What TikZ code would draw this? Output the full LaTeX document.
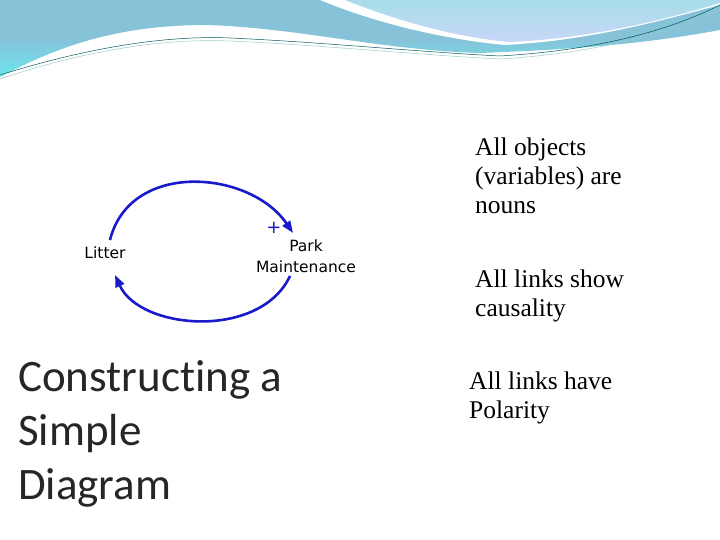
\documentclass[tikz,border=0pt]{standalone}
\usepackage{fontspec}
\setmainfont{Liberation Serif}
\newfontfamily\sansf{DejaVu Sans}
\newfontfamily\calib[RawFeature=-liga]{Carlito}
\usetikzlibrary{arrows.meta}
\definecolor{hdr}{HTML}{86C2D8}
\definecolor{hdrc}{HTML}{6CE6EE}
\definecolor{hlt}{HTML}{A8DDE8}
\definecolor{lnk}{HTML}{1A1ACC}
\tikzset{lab/.style={font=\sansf\fontsize{15.5}{18}\selectfont,align=center,inner sep=0pt},
 bul/.style={font=\fontsize{25.5}{29}\selectfont,align=left,anchor=north west,inner sep=0pt},
 arc/.style={lnk,line width=2.6pt,-{Triangle[length=12pt,width=9pt]}}}
\begin{document}
\begin{tikzpicture}[x=1pt,y=-1pt]
\useasboundingbox (0,0) rectangle (720,540);
\fill[white] (0,0) rectangle (720,540);
\shade[top color=hdr,bottom color=hdrc,middle color=hdr] (0,0) -- (720,0) -- (720,30) .. controls (640,45) and (560,50) .. (480,53) .. controls (380,50) and (300,28) .. (207,25) .. controls (120,25) and (60,45) .. (0,77) -- cycle;
\fill[white] (320,0) .. controls (380,25) and (450,40) .. (505,45) .. controls (600,40) and (680,15) .. (720,5) -- (720,0) -- cycle;
\shade[top color=hlt,bottom color=hlt!70!blue!40] (345,0) .. controls (400,22) and (460,38) .. (510,42) .. controls (600,38) and (680,15) .. (720,3) -- (720,0) -- cycle;
\draw[teal!70!black,line width=0.5pt] (0,75) .. controls (80,50) and (160,35) .. (230,38) .. controls (320,42) and (420,52) .. (500,56) .. controls (600,50) and (670,30) .. (720,5);
\draw[teal!40,line width=0.5pt] (0,79) .. controls (80,52) and (160,38) .. (230,41) .. controls (320,45) and (420,55) .. (500,59) .. controls (600,53) and (670,32) .. (720,10);
\node[lab] (lit) at (105,253) {Litter};
\node[lab,font=\sansf\fontsize{15.5}{21}\selectfont] (park) at (306,256) {Park\\Maintenance};
\node[font=\sansf\fontsize{18}{18}\selectfont,text=lnk,inner sep=0pt] (plus) at (274,228) {+};
\draw[arc] (110,240) .. controls (130,160) and (250,170) .. (293,233);
\draw[arc] (290,276) .. controls (260,340) and (140,330) .. (115,275);
\node[bul] (t1) at (475,138) {All objects\\(variables) are\\nouns};
\node[bul] (t2) at (475,270) {All links show\\causality};
\node[bul] (t3) at (469,372) {All links have\\Polarity};
\node[font=\calib\fontsize{45}{54}\selectfont,align=left,anchor=north west,inner sep=0pt,text=black!85] (title) at (18,360) {Constructing a\\Simple\\Diagram};
\end{tikzpicture}
\end{document}
